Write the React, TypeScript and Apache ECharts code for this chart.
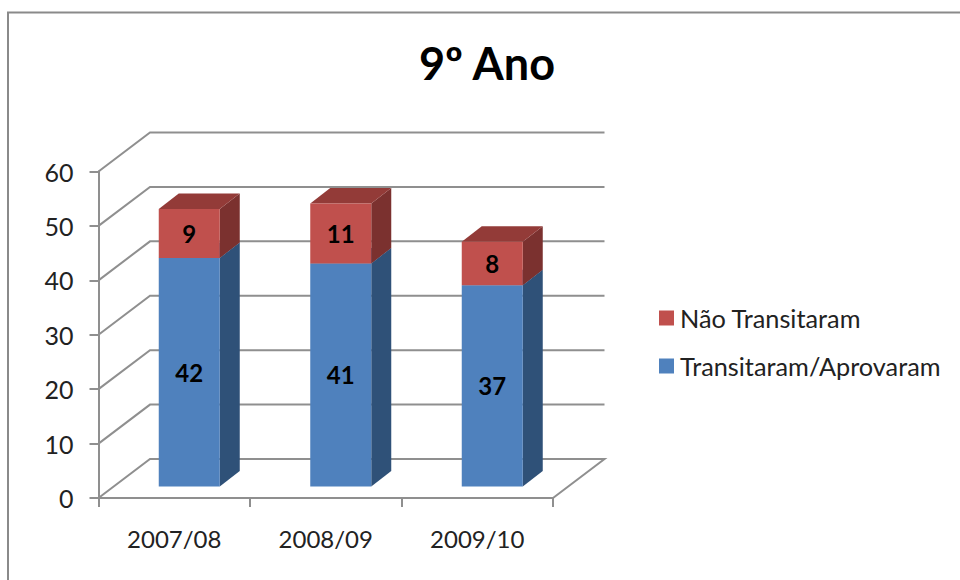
import React, { useEffect, useRef } from "react";
import * as echarts from "echarts";

const titleText = "9º Ano";
const categories = ["2007/08", "2008/09", "2009/10"];
const aprovaram = [42, 41, 37];
const naoTransitaram = [9, 11, 8];
const yTicks = [0, 10, 20, 30, 40, 50, 60];
const nameAprovaram = "Transitaram/Aprovaram";
const nameNao = "Não Transitaram";

const FONT = "Lato";
const GRAY = "#8f8f8f";
const WALL_DX = 51.5;
const WALL_DY = -39;
const BAR_WIDTH = 61;
const BAR_SHIFT_X = 15;
const BAR_SHIFT_Y = -11.5;
const BAR_DX = 20;
const BAR_DY = -15.5;

function barRenderer(front: string, side: string, top: string) {
  return (_params: any, api: any) => {
    const cat = api.value(0);
    const base = api.value(1);
    const end = api.value(2);
    const p0 = api.coord([cat, base]);
    const p1 = api.coord([cat, end]);
    const x0 = p0[0] + BAR_SHIFT_X - BAR_WIDTH / 2;
    const x1 = x0 + BAR_WIDTH;
    const yb = p0[1] + BAR_SHIFT_Y;
    const yt = p1[1] + BAR_SHIFT_Y;
    return {
      type: "group",
      children: [
        { type: "polygon", shape: { points: [[x1, yb], [x1 + BAR_DX, yb + BAR_DY], [x1 + BAR_DX, yt + BAR_DY], [x1, yt]] }, style: { fill: side } },
        { type: "polygon", shape: { points: [[x0, yt], [x1, yt], [x1 + BAR_DX, yt + BAR_DY], [x0 + BAR_DX, yt + BAR_DY]] }, style: { fill: top } },
        { type: "rect", shape: { x: x0, y: yt, width: BAR_WIDTH, height: yb - yt }, style: { fill: front } },
        {
          type: "text",
          x: (x0 + x1) / 2,
          y: (yb + yt) / 2,
          style: { text: String(end - base), fill: "#000", font: `bold 24px ${FONT}`, textAlign: "center", textVerticalAlign: "middle" },
        },
      ],
    };
  };
}

function wallRenderer(params: any, api: any) {
  const v = api.value(1);
  const cs = params.coordSys;
  const y = api.coord([0, v])[1];
  const left = cs.x;
  const right = cs.x + cs.width;
  const pts: number[][] = [[left, y], [left + WALL_DX, y + WALL_DY], [right + WALL_DX, y + WALL_DY]];
  if (v === 0) pts.push([right, y]);
  return { type: "polyline", shape: { points: pts }, style: { fill: "none", stroke: GRAY, lineWidth: 2 } };
}

export default function App() {
  const ref = useRef<HTMLDivElement>(null);
  useEffect(() => {
    const chart = echarts.init(ref.current!, null, { renderer: "svg" });
    chart.setOption({
      animation: false,
      backgroundColor: "#fff",
      title: {
        text: titleText,
        left: 482,
        top: 35,
        textAlign: "center",
        textStyle: { fontFamily: FONT, fontSize: 45, fontWeight: "bold", color: "#000" },
      },
      legend: {
        orient: "vertical",
        left: 654,
        top: 299,
        itemWidth: 15,
        itemHeight: 15,
        itemGap: 20,
        icon: "rect",
        data: [nameNao, nameAprovaram],
        textStyle: { fontFamily: FONT, fontSize: 25.3, color: "#222", padding: [0, 0, 0, 1], lineHeight: 28 },
      },
      graphic: [
        { type: "polyline", shape: { points: [[960, 12.5], [8, 12.5], [8, 580]] }, style: { fill: "none", stroke: "#8a8a8a", lineWidth: 2 } },
      ],
      grid: { left: 98.5, top: 171.5, width: 454.5, height: 326.5 },
      xAxis: {
        type: "category",
        data: categories,
        axisLine: { lineStyle: { color: GRAY, width: 2 } },
        axisTick: { show: true, alignWithLabel: false, length: 9, lineStyle: { color: GRAY, width: 2 } },
        axisLabel: { fontFamily: FONT, fontSize: 24, color: "#222", margin: 28 },
      },
      yAxis: {
        type: "value",
        min: 0,
        max: 60,
        interval: 10,
        axisLine: { show: true, lineStyle: { color: GRAY, width: 2 } },
        axisTick: { show: true, length: 9, lineStyle: { color: GRAY, width: 2 } },
        axisLabel: { fontFamily: FONT, fontSize: 25, color: "#222", margin: 25 },
        splitLine: { show: false },
      },
      series: [
        {
          type: "custom",
          silent: true,
          clip: false,
          z: 1,
          encode: { x: 0, y: 1 },
          data: yTicks.map((t) => [0, t]),
          renderItem: wallRenderer,
        },
        {
          type: "custom",
          name: nameAprovaram,
          clip: false,
          z: 2,
          itemStyle: { color: "#4f81bd" },
          encode: { x: 0, y: [1, 2] },
          data: categories.map((_, i) => [i, 0, aprovaram[i]]),
          renderItem: barRenderer("#4f81bd", "#2f5178", "#3f6797"),
        },
        {
          type: "custom",
          name: nameNao,
          clip: false,
          z: 3,
          itemStyle: { color: "#c0504d" },
          encode: { x: 0, y: [1, 2] },
          data: categories.map((_, i) => [i, aprovaram[i], aprovaram[i] + naoTransitaram[i]]),
          renderItem: barRenderer("#c0504d", "#7b312f", "#933b38"),
        },
      ],
    });
    return () => chart.dispose();
  }, []);
  return <div ref={ref} style={{ position: "absolute", left: 0, top: 0, width: 960, height: 580 }} />;
}
